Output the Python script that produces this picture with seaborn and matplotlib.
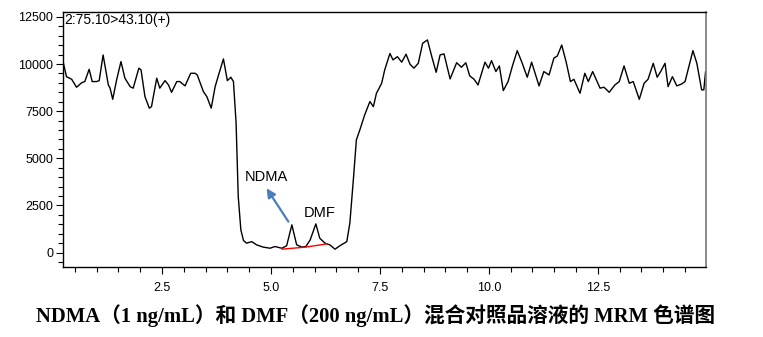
import matplotlib
matplotlib.use("Agg")
import matplotlib.pyplot as plt
import seaborn as sns
import pandas as pd
from matplotlib.ticker import MultipleLocator

# ---- data ----
rt_min = [0.24, 0.31, 0.43, 0.54, 0.66, 0.73, 0.83, 0.90, 1.00, 1.06, 1.15, 1.27, 1.31, 1.37,
          1.46, 1.56, 1.65, 1.77, 1.84, 1.97, 2.02, 2.11, 2.21, 2.26, 2.38, 2.45, 2.57, 2.65,
          2.72, 2.84, 2.91, 3.03, 3.16, 3.26, 3.31, 3.45, 3.53, 3.63, 3.72, 3.81, 3.91, 4.00,
          4.08, 4.14, 4.20, 4.25, 4.31, 4.37, 4.44, 4.56, 4.67, 4.82, 4.98, 5.09, 5.25, 5.36,
          5.48, 5.59, 5.71, 5.80, 5.90, 6.03, 6.12, 6.24, 6.35, 6.47, 6.58, 6.74, 6.81, 6.89,
          6.96, 7.04, 7.15, 7.27, 7.35, 7.42, 7.54, 7.61, 7.73, 7.80, 7.90, 8.00, 8.10, 8.19,
          8.28, 8.38, 8.48, 8.59, 8.69, 8.79, 8.88, 8.97, 9.11, 9.26, 9.37, 9.47, 9.56, 9.66,
          9.75, 9.91, 9.99, 10.06, 10.16, 10.24, 10.33, 10.44, 10.54, 10.65, 10.75, 10.88,
          10.98, 11.15, 11.26, 11.38, 11.49, 11.57, 11.67, 11.77, 11.87, 11.95, 12.09, 12.20,
          12.28, 12.38, 12.55, 12.64, 12.76, 12.89, 12.99, 13.10, 13.22, 13.31, 13.45, 13.56,
          13.65, 13.77, 13.86, 13.94, 14.04, 14.11, 14.21, 14.31, 14.42, 14.50, 14.68, 14.77,
          14.88, 14.93, 14.97]
intensity = [10040, 9330, 9190, 8770, 9010, 9070, 9720, 9070, 9070, 9120, 10480, 8890, 8720, 8130,
             9160, 10130, 9250, 8800, 8720, 9780, 9690, 8270, 7660, 7740, 9250, 8720, 9120, 8890,
             8500, 9070, 9070, 8840, 9510, 9510, 9420, 8540, 8270, 7660, 8800, 9510, 10270, 9120,
             9300, 9070, 6900, 2970, 1200, 640, 500, 580, 410, 290, 230, 320, 230, 360,
             1470, 410, 290, 320, 670, 1520, 760, 500, 410, 180, 360, 580, 1560, 3850,
             5980, 6510, 7300, 8010, 7740, 8450, 8980, 9690, 10560, 10220, 10390, 10100, 10520, 9990,
             9780, 10040, 11100, 11280, 10390, 9560, 10480, 10540, 9210, 10070, 9830, 10070, 9370, 9190,
             8890, 10100, 9780, 10180, 9600, 9900, 8590, 9070, 9900, 10710, 10130, 9300,
             10100, 8840, 9600, 9420, 10310, 10430, 11010, 10130, 9070, 9190, 8450, 9510,
             9070, 9600, 8720, 8770, 8500, 8890, 9070, 9900, 8980, 9070, 8130, 8980,
             9190, 10040, 9300, 9600, 10040, 8800, 9330, 8840, 8940, 9070, 10710, 10040,
             8630, 8630, 9600]

baseline_rt = [5.25, 5.80, 6.28]
baseline_int = [180, 290, 460]

channel_label = "2:75.10>43.10(+)"
peak_names = ["NDMA", "DMF"]
peak_label_pos = [(4.90, 4030), (6.11, 2120)]
arrow_tail = (5.40, 1640)
arrow_head = (4.90, 3410)
title = "NDMA（1 ng/mL）和 DMF（200 ng/mL）混合对照品溶液的 MRM 色谱图"

sns.set_style("ticks")
plt.rcParams["font.family"] = ["Liberation Sans", "DejaVu Sans"]
plt.rcParams["text.color"] = "black"
plt.rcParams["xtick.color"] = "black"
plt.rcParams["ytick.color"] = "black"
plt.rcParams["xtick.labelcolor"] = "black"
plt.rcParams["ytick.labelcolor"] = "black"

fig = plt.figure(figsize=(7.63, 3.37), dpi=100)
ax = fig.add_axes([63 / 763, 1 - 266.7 / 337, (706 - 63) / 763, (266.7 - 12) / 337])

df = pd.DataFrame({"rt": rt_min, "int": intensity})
sns.lineplot(data=df, x="rt", y="int", color="black", lw=1.0, ax=ax, sort=False,
             solid_joinstyle="round")
sns.lineplot(x=baseline_rt, y=baseline_int, color="#ff0000", lw=1.0, ax=ax, sort=False)

ax.set_xlim(0.23, 14.98)
ax.set_ylim(-750, 12760)
ax.xaxis.set_major_locator(MultipleLocator(2.5))
ax.xaxis.set_minor_locator(MultipleLocator(0.5))
ax.yaxis.set_major_locator(MultipleLocator(2500))
ax.yaxis.set_minor_locator(MultipleLocator(500))
ax.xaxis.set_major_formatter(matplotlib.ticker.FormatStrFormatter("%.1f"))
ax.tick_params(axis="both", which="major", length=5, width=0.8, labelsize=9, colors="black",
               labelcolor="black", pad=2)
ax.tick_params(axis="both", which="minor", length=3.5, width=0.8, colors="black")
ax.tick_params(axis="x", pad=6)
ax.set_xlabel("")
ax.set_ylabel("")
for side in ["left", "bottom", "top"]:
    ax.spines[side].set_color("black")
    ax.spines[side].set_linewidth(1.0)
ax.spines["right"].set_color("#777777")
ax.spines["right"].set_linewidth(1.2)

ax.text(0.002, 0.995, channel_label, transform=ax.transAxes, ha="left", va="top", fontsize=10,
        color="black")

for name, (px, py) in zip(peak_names, peak_label_pos):
    ax.text(px, py, name, ha="center", va="center", fontsize=10.5, color="black")

ax.annotate("", xy=arrow_head, xytext=arrow_tail,
            arrowprops=dict(arrowstyle="-|>", color="#4a7ebb", lw=1.6, mutation_scale=13,
                            shrinkA=0, shrinkB=0))

fig.text(0.492, 1 - 316 / 337, title, ha="center", va="center", fontsize=14.9, fontweight="bold",
         color="black", family=["Liberation Serif", "Noto Sans CJK SC"])

fig.savefig("out.png", dpi=100)
